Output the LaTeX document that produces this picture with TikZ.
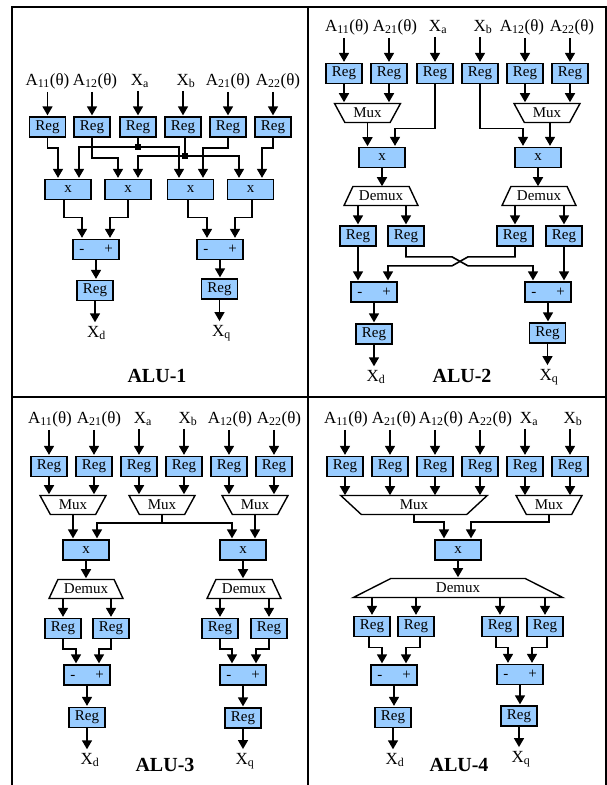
\documentclass[tikz,border=0pt]{standalone}
\usepackage{fontspec}
\setmainfont{Liberation Serif}
\usetikzlibrary{calc,shapes.geometric,arrows.meta}
\definecolor{regblue}{HTML}{99CCFF}
\newcommand{\coef}[1]{A\textsubscript{#1}(θ)}
\newcommand{\addsub}{-\hspace{20pt}+\hspace{3pt}}
\newcommand{\opsize}{\fontsize{15}{16}\selectfont}
\tikzset{
	box/.style={draw, line width=1.7pt, fill=regblue, inner sep=0pt, font=\opsize},
	reg/.style={box, minimum width=36, minimum height=20},
	alu/.style={box, minimum width=46, minimum height=20},
	mux/.style n args={2}{draw, line width=1.4pt, fill=white, inner sep=0pt, font=\opsize,
		trapezium, trapezium stretches=true, shape border rotate=180,
		trapezium left angle=#2, trapezium right angle=#2, minimum width=#1, minimum height=19},
	demux/.style n args={2}{mux={#1}{#2}, shape border rotate=0},
	sig/.style={inner sep=0pt, outer ysep=3pt, font=\fontsize{17}{18}\selectfont},
	title/.style={inner sep=0pt, font=\fontsize{20}{22}\selectfont\bfseries},
	dot/.style={fill=black, inner sep=0pt, minimum size=5.5},
	wire/.style={line width=1.6pt, -{Triangle[length=9,width=10]}, shorten >=0.8pt},
	frame/.style={line width=1.3pt}
}
\begin{document}
\begin{tikzpicture}[x=1pt,y=-1pt]
	\useasboundingbox (0,0) rectangle (607,785);
	\draw[frame] (12,785) -- (12,7) -- (606,7) -- (606,785);
	\draw[frame] (308,7) -- (308,785);
	\draw[frame] (12,397) -- (606,397);
	
	% ALU-1
	\foreach \n/\x/\lx/\t in {1/47.5/47.5/\coef{11},2/92/95/\coef{12},3/138/140/X\textsubscript{a},4/183/186/X\textsubscript{b},5/228/228/\coef{21},6/273/278/\coef{22}}{
		\node[reg] (ra\n) at (\x,127) {Reg};
		\node[sig] (la\n) at (\lx,81) {\t};
		\draw[wire] (la\n.south -| ra\n.north) -- (ra\n.north);}
	\foreach \n/\x in {1/68,2/128,3/190.5,4/250.5}{
		\node[alu] (ma\n) at (\x,189.5) {x};}
	\node[alu] (aa1) at (96,249.5) {\addsub};
	\node[alu] (aa2) at (220,249.5) {\addsub};
	\node[reg] (oa1) at (95,290.5) {Reg};
	\node[reg] (oa2) at (219.5,289) {Reg};
	\node[sig] (xa1) at (96.5,333) {X\textsubscript{d}};
	\node[sig] (xa2) at (221.5,333) {X\textsubscript{q}};
	\node[title] (ta) at (157,376) {ALU-1};
	\node[dot] (ja) at (138,147) {};
	\node[dot] (jb) at (185,156) {};
	
	\draw[wire] (ra1.south) -- ++(0,10) -| ($(ma1.north)+(-10,0)$);
	\draw[wire] (ra2.south) -- ++(0,20) -| ($(ma2.north)+(-10,0)$);
	\draw[line width=1.6pt] (ra3.south) -- (ja.center);
	\draw[line width=1.6pt] ($(ra4.south)+(2,0)$) -- (jb.center);
	\draw[wire] (ja.center) -| ($(ma1.north)+(11,0)$);
	\draw[wire] (ja.center) -| ($(ma3.north)+(-11.5,0)$);
	\draw[wire] (jb.center) -| ($(ma2.north)+(10,0)$);
	\draw[wire] (jb.center) -| ($(ma4.north)+(-11.5,0)$);
	\draw[wire] (ra5.south) -- ++(0,10) -| ($(ma3.north)+(12.5,0)$);
	\draw[wire] (ra6.south) -- ++(0,10) -| ($(ma4.north)+(11.5,0)$);
	\draw[wire] ($(ma1.south)+(-4,0)$) -- ++(0,17) -| ($(aa1.north)+(-14,0)$);
	\draw[wire] (ma2.south) -- ++(0,17) -| ($(aa1.north)+(14,0)$);
	\draw[wire] ($(ma3.south)+(-2.5,0)$) -- ++(0,17) -| ($(aa2.north)+(-13,0)$);
	\draw[wire] ($(ma4.south)+(1.5,0)$) -- ++(0,17) -| ($(aa2.north)+(15,0)$);
	\foreach \n in {1,2}{
		\draw[wire] (aa\n.south) -- (aa\n.south |- oa\n.north);
		\draw[wire] (oa\n.south) -- (oa\n.south |- xa\n.north);}
	
	% ALU-2
	\foreach \n/\x/\lx/\t in {1/344/347/\coef{11},2/389/395/\coef{21},3/435/438/X\textsubscript{a},4/480/483/X\textsubscript{b},5/525/522/\coef{12},6/570/572/\coef{22}}{
		\node[reg] (rb\n) at (\x,73.5) {Reg};
		\node[sig] (lb\n) at (\lx,27) {\t};
		\draw[wire] (lb\n.south -| rb\n.north) -- (rb\n.north);}
	\node[mux={66}{57}] (ub1) at (367.5,113) {Mux};
	\node[mux={66}{57}] (ub2) at (547,113) {Mux};
	\node[alu] (mb1) at (382,157.5) {x};
	\node[alu] (mb2) at (538,157.5) {x};
	\node[demux={74}{55}] (db1) at (381,196) {Demux};
	\node[demux={74}{55}] (db2) at (539,196) {Demux};
	\foreach \n/\x in {1/358,2/406,3/515,4/564}{
		\node[reg] (sb\n) at (\x,236) {Reg};}
	\node[alu] (ab1) at (374,292) {\addsub};
	\node[alu] (ab2) at (548,292) {\addsub};
	\node[reg] (ob1) at (374,334) {Reg};
	\node[reg] (ob2) at (547.5,333) {Reg};
	\node[sig] (xb1) at (376,377) {X\textsubscript{d}};
	\node[sig] (xb2) at (549,377) {X\textsubscript{q}};
	\node[title] (tb) at (462,376) {ALU-2};
	
	\foreach \n/\u in {1/ub1,2/ub1,5/ub2,6/ub2}{
		\draw[wire] (rb\n.south) -- (rb\n.south |- 0,103);}
	\draw[wire] (ub1.center |- 0,123) -- (ub1.center |- 0,147);
	\draw[wire] ($(mb2.north)+(12,-24)$) -- ($(mb2.north)+(12,0)$);
	\draw[wire] (rb3.south) -- ++(0,44) -| ($(mb1.north)+(13,0)$);
	\draw[wire] (rb4.south) -- ++(0,44) -| ($(mb2.north)+(-15,0)$);
	\draw[wire] (mb1.south) -- (mb1.south |- 0,187);
	\draw[wire] (mb2.south) -- (mb2.south |- 0,187);
	\foreach \n/\d in {1/db1,2/db1,3/db2,4/db2}{
		\draw[wire] (sb\n.north |- 0,206) -- (sb\n.north);}
	\draw[wire] (sb1.south) -- (sb1.south |- ab1.north);
	\draw[wire] (sb4.south) -- (sb4.south |- ab2.north);
	\draw[wire] (sb2.south) -- ++(0,10) -- ++(46,0) -- ++(16,9) -| ($(ab2.north)+(-15,0)$);
	\draw[wire] (sb3.south) -- ++(0,10) -- ++(-47,0) -- ++(-16,9) -| ($(ab1.north)+(14,0)$);
	\foreach \n in {1,2}{
		\draw[wire] (ab\n.south) -- (ab\n.south |- ob\n.north);
		\draw[wire] (ob\n.south) -- (ob\n.south |- xb\n.north);}
	
	% ALU-3
	\foreach \n/\x/\lx/\t in {1/49/50/\coef{11},2/94/99/\coef{21},3/139/143/X\textsubscript{a},4/184/188/X\textsubscript{b},5/229/230/\coef{12},6/274/279/\coef{22}}{
		\node[reg] (rc\n) at (\x,466.5) {Reg};
		\node[sig] (lc\n) at (\lx,419) {\t};
		\draw[wire] (lc\n.south -| rc\n.north) -- (rc\n.north);
		\draw[wire] (rc\n.south) -- (rc\n.south |- 0,495);}
	\node[mux={66}{57}] (uc1) at (73,505) {Mux};
	\node[mux={66}{57}] (uc2) at (162,505) {Mux};
	\node[mux={66}{57}] (uc3) at (255,505) {Mux};
	\node[alu] (mc1) at (86,550) {x};
	\node[alu] (mc2) at (243,550) {x};
	\node[demux={74}{55}] (dc1) at (86,589) {Demux};
	\node[demux={74}{55}] (dc2) at (244,589) {Demux};
	\foreach \n/\x in {1/63,2/111,3/220,4/269}{
		\node[reg] (sc\n) at (\x,628.5) {Reg};
		\draw[wire] (sc\n.north |- 0,598) -- (sc\n.north);}
	\node[alu] (ac1) at (87,675) {\addsub};
	\node[alu] (ac2) at (243,675) {\addsub};
	\node[reg] (oc1) at (87,717.5) {Reg};
	\node[reg] (oc2) at (243,718) {Reg};
	\node[sig] (xc1) at (90,760) {X\textsubscript{d}};
	\node[sig] (xc2) at (245,761) {X\textsubscript{q}};
	\node[title] (tc) at (165,765) {ALU-3};
	
	\draw[wire] (uc1.center |- 0,514) -- (uc1.center |- mc1.north);
	\draw[wire] (uc3.center |- 0,514) -- (uc3.center |- mc2.north);
	\draw[line width=1.6pt] (uc2.center |- 0,514) -- (uc2.center |- 0,523);
	\draw[wire] (uc2.center |- 0,523) -| ($(mc1.north)+(11,0)$);
	\draw[wire] (uc2.center |- 0,523) -| ($(mc2.north)+(-11,0)$);
	\draw[wire] (mc1.south) -- (mc1.south |- 0,579);
	\draw[wire] (mc2.south) -- (mc2.south |- 0,579);
	\draw[wire] (sc1.south) -- ++(0,9.5) -| ($(ac1.north)+(-11,0)$);
	\draw[wire] (sc2.south) -- ++(0,9.5) -| ($(ac1.north)+(12,0)$);
	\draw[wire] (sc3.south) -- ++(0,9.5) -| ($(ac2.north)+(-11,0)$);
	\draw[wire] (sc4.south) -- ++(0,9.5) -| ($(ac2.north)+(13,0)$);
	\foreach \n in {1,2}{
		\draw[wire] (ac\n.south) -- (ac\n.south |- oc\n.north);
		\draw[wire] (oc\n.south) -- (oc\n.south |- xc\n.north);}
	
	% ALU-4
	\foreach \n/\x/\lx/\t in {1/345/346/\coef{11},2/390/394/\coef{21},3/435/441/\coef{12},4/480/490/\coef{22},5/525/529/X\textsubscript{a},6/570/573/X\textsubscript{b}}{
		\node[reg] (rd\n) at (\x,466.5) {Reg};
		\node[sig] (ld\n) at (\lx,419) {\t};
		\draw[wire] (ld\n.south -| rd\n.north) -- (rd\n.north);
		\draw[wire] (rd\n.south) -- (rd\n.south |- 0,496);}
	\node[mux={147}{61}] (ud1) at (414,505) {Mux};
	\node[mux={66}{57}] (ud2) at (549,505) {Mux};
	\node[alu] (md) at (458,550) {x};
	\node[demux={210}{39}] (dd) at (458,588) {Demux};
	\foreach \n/\x in {1/372,2/416,3/500,4/545}{
		\node[reg] (sd\n) at (\x,626.5) {Reg};
		\draw[wire] (sd\n.north |- 0,597) -- (sd\n.north);}
	\node[alu] (ad1) at (394,675) {\addsub};
	\node[alu] (ad2) at (520,674.5) {\addsub};
	\node[reg] (od1) at (393,717.5) {Reg};
	\node[reg] (od2) at (519,716) {Reg};
	\node[sig] (xd1) at (395,760) {X\textsubscript{d}};
	\node[sig] (xd2) at (521,759) {X\textsubscript{q}};
	\node[title] (td) at (459,765) {ALU-4};
	
	\draw[wire] (ud1.center |- 0,514) -- (ud1.center |- 0,522) -| ($(md.north)+(-14,0)$);
	\draw[wire] (ud2.center |- 0,514) -- (ud2.center |- 0,522) -| ($(md.north)+(13,0)$);
	\draw[wire] (md.south) -- (md.south |- 0,578);
	\draw[wire] ($(sd1.south)+(-3,0)$) -- ++(0,10) -| ($(ad1.north)+(-12,0)$);
	\draw[wire] ($(sd2.south)+(4,0)$) -- ++(0,10) -| ($(ad1.north)+(12,0)$);
	\draw[wire] ($(sd3.south)+(-4,0)$) -- ++(0,10) -| ($(ad2.north)+(-12,0)$);
	\draw[wire] ($(sd4.south)+(2,0)$) -- ++(0,10) -| ($(ad2.north)+(12,0)$);
	\foreach \n in {1,2}{
		\draw[wire] (ad\n.south) -- (ad\n.south |- od\n.north);
		\draw[wire] (od\n.south) -- (od\n.south |- xd\n.north);}
\end{tikzpicture}
\end{document}
